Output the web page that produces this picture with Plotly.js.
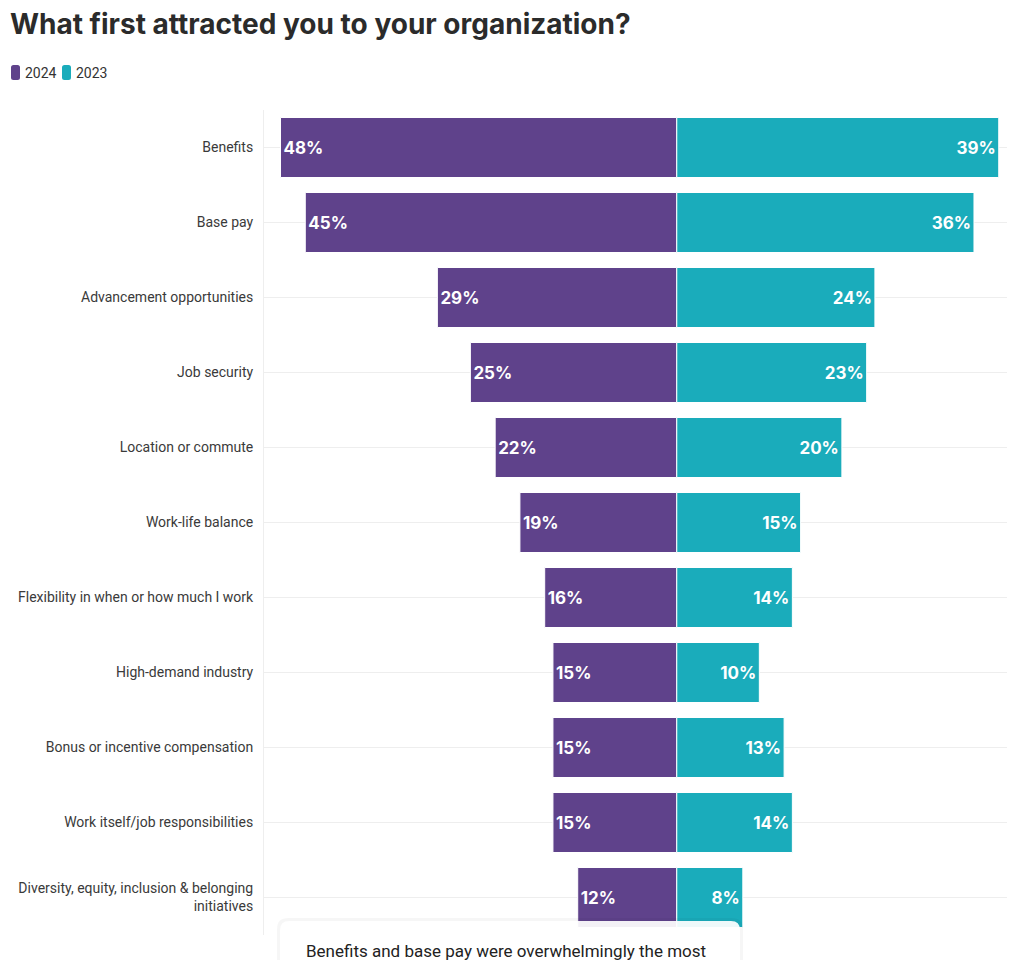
<!DOCTYPE html>
<html>
<head>
<meta charset="utf-8">
<script src="https://cdn.plot.ly/plotly-3.0.1.min.js"></script>
<style>
  html, body { margin: 0; padding: 0; background: #ffffff; }
  #chart { width: 1020px; height: 960px; }
</style>
</head>
<body>
<div id="chart"></div>
<script>
const categories = [
  "Benefits",
  "Base pay",
  "Advancement opportunities",
  "Job security",
  "Location or commute",
  "Work-life balance",
  "Flexibility in when or how much I work",
  "High-demand industry",
  "Bonus or incentive compensation",
  "Work itself/job responsibilities",
  "Diversity, equity, inclusion & belonging<br>initiatives"
];
const values2024 = [48, 45, 29, 25, 22, 19, 16, 15, 15, 15, 12];
const values2023 = [39, 36, 24, 23, 20, 15, 14, 10, 13, 14, 8];
const seriesNames = ["2024", "2023"];
const titleText = "What first attracted you to your organization?";
const noteText = "Benefits and base pay were overwhelmingly the most";

const purple = "#5f428b";
const teal = "#1aacbb";
const labelFont = { family: "Inter, Lato, sans-serif", size: 17, color: "#ffffff", weight: 700 };

const trace2024 = {
  type: "bar",
  orientation: "h",
  name: seriesNames[0],
  y: categories,
  x: values2024.map(v => -v),
  text: values2024.map(v => "<b>" + v + "%</b>"),
  textposition: "inside",
  insidetextanchor: "end",
  textfont: labelFont,
  marker: { color: purple, line: { color: "#ffffff", width: 1 } },
  hoverinfo: "skip",
  cliponaxis: false
};
const trace2023 = {
  type: "bar",
  orientation: "h",
  name: seriesNames[1],
  y: categories,
  x: values2023,
  text: values2023.map(v => "<b>" + v + "%</b>"),
  textposition: "inside",
  insidetextanchor: "end",
  textfont: labelFont,
  marker: { color: teal, line: { color: "#ffffff", width: 1 } },
  hoverinfo: "skip",
  cliponaxis: false
};

// plot area: x 264..1007 px, y 110..935 px
const plotL = 264, plotW = 743, plotT = 110, plotH = 825;
const px = x => (x - plotL) / plotW;
const py = y => (plotT + plotH - y) / plotH;

function roundRect(x0, y0, x1, y1, r) {
  // pixel coords -> paper path with rounded corners
  const X0 = px(x0), X1 = px(x1), Y0 = py(y0), Y1 = py(y1);
  const rx = r / plotW, ry = r / plotH;
  return `M ${X0},${Y1} L ${X0},${Y0 - ry} Q ${X0},${Y0} ${X0 + rx},${Y0} L ${X1 - rx},${Y0} Q ${X1},${Y0} ${X1},${Y0 - ry} L ${X1},${Y1 + ry} Q ${X1},${Y1} ${X1 - rx},${Y1} L ${X0 + rx},${Y1} Q ${X0},${Y1} ${X0},${Y1 + ry} Z`;
}
function topRoundRect(x0, y0, x1, y1, r) {
  const X0 = px(x0), X1 = px(x1), Y0 = py(y0), Y1 = py(y1);
  const rx = r / plotW, ry = r / plotH;
  return `M ${X0},${Y1} L ${X0},${Y0 - ry} Q ${X0},${Y0} ${X0 + rx},${Y0} L ${X1 - rx},${Y0} Q ${X1},${Y0} ${X1},${Y0 - ry} L ${X1},${Y1} Z`;
}

const legendColors = [purple, teal];
const legendX = [11, 62];
const legendShapes = legendColors.map((c, i) => ({
  type: "path", xref: "paper", yref: "paper", layer: "above",
  path: roundRect(legendX[i], 65, legendX[i] + 9, 80, 2.5),
  fillcolor: c, line: { width: 0 }
}));
const legendAnn = seriesNames.map((n, i) => ({
  text: n, xref: "paper", yref: "paper",
  x: px(legendX[i] + 12), xanchor: "left",
  y: py(72.5), yanchor: "middle",
  showarrow: false,
  font: { family: "Roboto, sans-serif", size: 14, color: "#333333" }
}));

const layout = {
  width: 1020,
  height: 960,
  paper_bgcolor: "#ffffff",
  plot_bgcolor: "#ffffff",
  margin: { l: 264, r: 13, t: 110, b: 25 },
  barmode: "relative",
  bargap: 0.2,
  title: {
    text: "<b>" + titleText + "</b>",
    x: 0.0098, xanchor: "left", xref: "container",
    y: 0.975, yanchor: "middle", yref: "container",
    font: { family: "Inter, Lato, sans-serif", size: 28, weight: 800, color: "#2b2b2b" }
  },
  showlegend: false,
  xaxis: {
    range: [-50, 40],
    showticklabels: false,
    showgrid: false,
    zeroline: false,
    fixedrange: true
  },
  yaxis: {
    autorange: "reversed",
    showgrid: true,
    gridcolor: "#eeeeee",
    gridwidth: 1,
    showline: true,
    linecolor: "#eeeeee",
    linewidth: 1,
    ticks: "",
    ticklabelstandoff: 7,
    tickfont: { family: "Roboto, sans-serif", size: 14, color: "#3a3a3a" },
    fixedrange: true
  },
  shapes: [
    ...legendShapes,
    {
      type: "path", xref: "paper", yref: "paper", layer: "above",
      path: topRoundRect(277, 918, 743, 985, 11),
      fillcolor: "rgba(0,0,0,0.035)", line: { width: 0 }
    },
    {
      type: "path", xref: "paper", yref: "paper", layer: "above",
      path: topRoundRect(280, 921, 740, 985, 9),
      fillcolor: "rgba(255,255,255,0.93)", line: { width: 0 }
    }
  ],
  annotations: [
    ...legendAnn,
    {
      text: noteText,
      xref: "paper", yref: "paper",
      x: px(304), xanchor: "left",
      y: py(951), yanchor: "middle",
      showarrow: false,
      font: { family: "Roboto, sans-serif", size: 17, color: "#222222" }
    }
  ]
};

Plotly.newPlot("chart", [trace2024, trace2023], layout, { displayModeBar: false, staticPlot: true });
</script>
</body>
</html>
